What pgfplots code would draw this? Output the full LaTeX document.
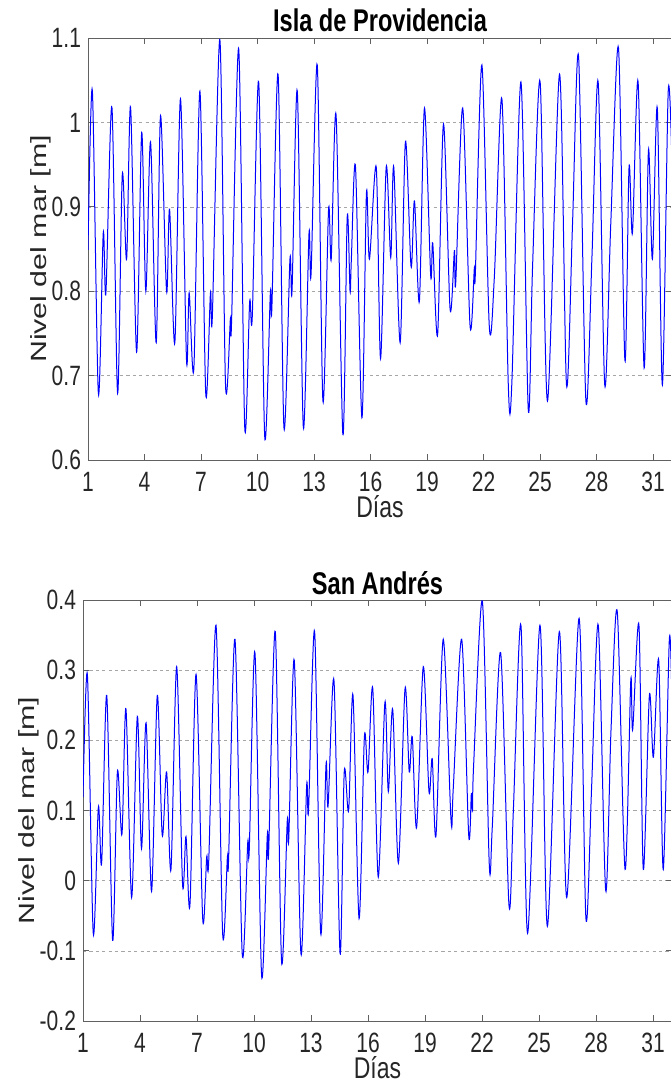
\documentclass[border=0pt]{standalone}
\usepackage{fontspec}
\setmainfont{Liberation Sans}
\usepackage{pgfplots}
\usepackage{pgfplotstable}
\pgfplotsset{compat=1.18}

% nivel del mar, Isla de Providencia (dia, nivel en m)
\pgfplotstableread{
d v
1.00 0.849
1.23 1.038
1.55 0.679
1.81 0.869
1.95 0.798
2.27 1.018
2.57 0.679
2.82 0.938
3.05 0.838
3.26 1.018
3.58 0.728
3.85 0.988
4.07 0.800
4.32 0.977
4.62 0.739
4.85 1.008
5.17 0.800
5.33 0.897
5.61 0.739
5.91 1.028
6.23 0.718
6.37 0.798
6.62 0.709
6.94 1.037
7.25 0.679
7.50 0.798
7.60 0.770
8.00 1.098
8.30 0.689
8.56 0.768
8.62 0.763
9.00 1.087
9.32 0.639
9.58 0.787
9.72 0.770
10.06 1.048
10.38 0.628
10.68 0.798
10.76 0.780
11.09 1.057
11.40 0.639
11.72 0.838
11.83 0.800
12.11 1.037
12.43 0.639
12.73 0.868
12.84 0.820
13.17 1.068
13.47 0.670
13.77 0.897
13.91 0.838
14.17 1.008
14.53 0.630
14.76 0.888
14.91 0.800
14.98 0.838
15.20 0.947
15.54 0.650
15.78 0.916
15.94 0.838
16.30 0.947
16.53 0.720
16.83 0.947
17.07 0.840
17.23 0.947
17.57 0.739
17.85 0.977
18.15 0.829
18.33 0.907
18.59 0.788
18.86 1.017
19.19 0.819
19.30 0.857
19.56 0.749
19.87 0.998
20.22 0.779
20.45 0.848
20.52 0.810
20.89 1.017
21.28 0.759
21.51 0.828
21.56 0.820
21.91 1.068
22.30 0.759
22.57 0.817
22.97 1.028
23.31 0.689
23.50 0.692
23.98 1.048
24.37 0.660
24.60 0.830
25.00 1.048
25.39 0.670
26.03 1.057
26.40 0.689
26.72 0.880
27.04 1.078
27.43 0.670
27.75 0.840
28.08 1.048
28.43 0.689
28.75 0.880
29.16 1.088
29.50 0.718
29.72 0.947
29.90 0.869
30.20 1.048
30.52 0.709
30.75 0.967
30.96 0.838
31.22 1.017
31.49 0.689
31.80 1.037
32.00 0.950
}\providencia

% nivel del mar, San Andres
\pgfplotstableread{
d v
1.00 0.119
1.23 0.294
1.54 -0.075
1.81 0.105
1.98 0.025
2.25 0.264
2.56 -0.085
2.81 0.155
3.05 0.066
3.26 0.245
3.56 -0.024
3.86 0.234
4.08 0.046
4.32 0.225
4.61 -0.015
4.91 0.264
5.17 0.065
5.40 0.155
5.63 0.016
5.93 0.305
6.24 -0.005
6.42 0.063
6.63 -0.034
6.95 0.294
7.30 -0.054
7.51 0.034
7.62 0.030
8.00 0.364
8.35 -0.075
8.60 0.034
8.66 0.028
9.00 0.344
9.38 -0.104
9.67 0.054
9.75 0.043
10.05 0.325
10.40 -0.135
10.70 0.065
10.77 0.040
11.12 0.355
11.45 -0.115
11.75 0.085
11.83 0.060
12.12 0.314
12.47 -0.104
12.77 0.135
12.87 0.100
13.19 0.355
13.51 -0.075
13.79 0.165
13.90 0.107
14.21 0.285
14.53 -0.104
14.75 0.155
14.98 0.100
15.21 0.264
15.53 -0.054
15.81 0.205
16.00 0.155
16.25 0.274
16.54 0.005
16.89 0.254
17.07 0.127
17.30 0.244
17.60 0.025
17.95 0.274
18.17 0.155
18.33 0.205
18.56 0.076
18.91 0.305
19.21 0.127
19.38 0.174
19.58 0.065
19.96 0.344
20.37 0.086
20.49 0.133
20.93 0.344
21.30 0.065
21.44 0.124
21.50 0.100
21.56 0.165
22.02 0.398
22.38 0.025
22.54 0.076
22.98 0.325
23.42 -0.035
23.65 0.100
24.05 0.364
24.40 -0.075
25.05 0.364
25.44 -0.065
26.07 0.355
26.46 -0.024
27.11 0.374
27.47 -0.054
27.77 0.134
28.12 0.364
28.51 -0.014
28.79 0.215
29.12 0.383
29.53 0.016
29.83 0.285
29.93 0.215
30.26 0.364
30.49 0.016
30.81 0.264
31.02 0.176
31.30 0.314
31.54 0.016
31.86 0.344
32.00 0.250
}\sanandres

\definecolor{axgray}{gray}{0.38}
\definecolor{txt}{gray}{0.15}

\pgfplotsset{
  mlab/.style={
    scale only axis,
    xmin=1, xmax=32,
    xtick={1,4,...,31},
    tick align=inside,
    major tick length=3pt,
    axis line style={axgray, line width=0.4pt},
    every tick/.style={axgray, line width=0.4pt},
    ymajorgrids,
    major grid style={black!35, line width=0.3pt, dash pattern=on 1.6pt off 1.6pt},
    tick label style={font=\fontsize{10.5}{12}\selectfont, text=txt, yscale=1.33},
    xticklabel style={inner sep=1pt, yshift=-3.3pt},
    /pgf/number format/assume math mode=true,
    xlabel={Días},
    ylabel={Nivel del mar [m]},
    xlabel style={font=\fontsize{11.5}{13}\selectfont, text=txt, inner sep=1pt,
      at={(axis description cs:0.5,0)}, anchor=center, yshift=-23.5pt, yscale=1.3},
    ylabel style={font=\fontsize{11}{13}\selectfont, text=txt, yshift=-6.5pt, xscale=1.38},
    title style={font=\bfseries\fontsize{11.8}{14}\selectfont,
      at={(0.5,1)}, anchor=base, yshift=-3pt, yscale=1.33},
  },
  serie/.style={blue, line width=0.5pt, smooth, no markers},
}

\begin{document}
\begin{tikzpicture}
\begin{axis}[mlab,
  at={(44pt,-230pt)}, anchor=south west,
  width=292pt, height=211pt,
  ymin=0.6, ymax=1.1,
  ytick={0.6,0.7,0.8,0.9,1.0,1.1},
  yticklabels={0.6,0.7,0.8,0.9,1,1.1},
  title={Isla de Providencia}]
\addplot[serie] table[x=d, y=v] {\providencia};
\end{axis}

\begin{axis}[mlab,
  at={(41.5pt,-510.5pt)}, anchor=south west,
  width=294.5pt, height=210.5pt,
  ymin=-0.2, ymax=0.4,
  ytick={-0.2,-0.1,0,0.1,0.2,0.3,0.4},
  yticklabels={-0.2,-0.1,0,0.1,0.2,0.3,0.4},
  title={San Andrés}]
\addplot[serie] table[x=d, y=v] {\sanandres};
\end{axis}

\pgfresetboundingbox
\useasboundingbox (0pt,0pt) rectangle (335pt,-540pt);
\end{tikzpicture}
\end{document}
